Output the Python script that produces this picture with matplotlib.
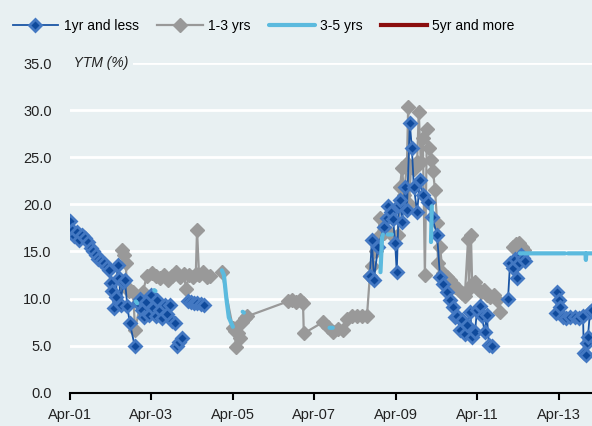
import numpy as np
import matplotlib.pyplot as plt

nan = np.nan

# 1yr and less
t_short = [2001.25, 2001.30, 2001.36, 2001.42, 2001.48, 2001.55, 2001.62, 2001.69, 2001.76, 2001.83,
           2001.89, 2001.95, 2002.02, 2002.09, 2002.16, 2002.21, 2002.25, 2002.29, 2002.33, 2002.38,
           2002.42, 2002.46, 2002.50, 2002.55, 2002.60, 2002.66, 2002.72, 2002.84, nan,
           2002.92, 2002.97, 2003.02, 2003.07, 2003.12, 2003.18, 2003.24, 2003.30, 2003.36, 2003.40,
           2003.46, 2003.52, 2003.58, 2003.64, 2003.70, 2003.76, 2003.82, nan,
           2003.87, 2003.93, 2003.99, nan,
           2004.15, 2004.22, 2004.30, 2004.38, 2004.46, 2004.55, nan,
           2008.61, 2008.66, 2008.71, 2008.81, 2008.96, 2009.03, 2009.05, 2009.13, 2009.18, 2009.23,
           2009.27, 2009.32, 2009.35, 2009.40, 2009.47, 2009.52, 2009.59, 2009.64, 2009.69, 2009.77,
           2009.84, 2009.91, 2010.04, 2010.13, 2010.26, 2010.33, 2010.40, 2010.50, 2010.58, 2010.65,
           2010.70, 2010.75, 2010.82, 2010.87, 2010.94, 2010.99, 2011.07, 2011.12, 2011.19, 2011.24,
           2011.31, 2011.36, 2011.43, 2011.48, 2011.53, 2011.61, nan,
           2012.00, 2012.05, 2012.12, 2012.17, 2012.22, 2012.27, 2012.32, 2012.37, 2012.42, nan,
           2013.18, 2013.20, 2013.25, 2013.27, 2013.35, 2013.42, 2013.52, 2013.64, 2013.74, 2013.84,
           2013.86, 2013.91, 2013.94, 2013.96, 2014.01, 2014.06]
v_short = [18.2, 17.3, 16.6, 17.1, 16.2, 16.8, 16.4, 16.0, 15.4, 15.0,
           14.6, 14.2, 14.0, 13.8, 13.4, 13.0, 11.6, 10.8, 9.0, 10.2,
           13.6, 12.2, 9.3, 11.8, 12.0, 9.2, 7.4, 5.0, nan,
           9.5, 10.0, 8.8, 8.0, 9.6, 8.3, 10.4, 9.0, 8.2, 9.9,
           8.8, 7.9, 9.3, 8.4, 9.3, 7.6, 7.4, nan,
           5.0, 5.4, 5.8, nan,
           9.7, 9.6, 9.5, 9.5, 9.4, 9.3, nan,
           12.4, 16.2, 12.0, 15.5, 17.6, 18.6, 19.8, 19.2, 18.4, 15.9,
           12.8, 19.9, 20.5, 18.1, 21.8, 19.4, 28.6, 26.0, 21.8, 19.2,
           22.6, 21.0, 20.2, 18.7, 16.8, 12.3, 11.5, 10.7, 9.9, 9.1,
           8.0, 8.1, 6.7, 7.7, 6.2, 7.2, 8.6, 5.9, 6.5, 8.8,
           9.2, 8.1, 6.4, 8.3, 5.1, 5.0, nan,
           10.0, 13.8, 13.2, 14.2, 12.2, 13.8, 14.6, 14.3, 14.0, nan,
           8.5, 10.7, 9.9, 9.1, 8.0, 7.9, 8.0, 8.0, 7.9, 8.1,
           4.2, 4.0, 5.3, 5.9, 8.6, 8.8]

# 1-3 yrs
t_mid = [2002.53, 2002.58, 2002.62, 2002.65, 2002.70, 2002.80, 2002.85, 2003.04, 2003.14, 2003.26,
         2003.36, 2003.46, 2003.56, 2003.65, 2003.75, 2003.85, 2003.95, 2004.05, 2004.10, 2004.17,
         2004.27, 2004.34, 2004.37, 2004.42, 2004.51, 2004.61, 2004.69, nan,
         2004.98, 2005.25, 2005.30, 2005.32, 2005.37, 2005.42, 2005.47, 2005.54, 2005.59,
         2006.60, 2006.70, 2006.80, 2006.89, 2006.97, 2006.99,
         2007.46, 2007.58, 2007.70, 2007.83, 2007.95, 2008.05, 2008.17, 2008.29, 2008.42, 2008.54,
         2008.61, 2008.66, 2008.76, 2008.81, 2008.86, 2008.96, 2009.10, 2009.30, 2009.35, 2009.40,
         2009.45, 2009.52, 2009.55, 2009.57, 2009.62, 2009.69, 2009.77, 2009.81, 2009.86, 2009.91,
         2009.96, 2010.01, 2010.06, 2010.11, 2010.16, 2010.21, 2010.26, 2010.28, 2010.33, 2010.40,
         2010.50, 2010.58, 2010.65, 2010.70, 2010.77, 2010.87, 2010.94, 2011.02, 2011.04, 2011.09,
         2011.12, 2011.19, 2011.26, 2011.34, 2011.41, 2011.48, 2011.56, 2011.65, 2011.73, 2011.80, nan,
         2012.12, 2012.19, 2012.27, 2012.34, 2012.39]
v_mid = [15.2, 14.6, 13.8, 11.2, 10.8, 10.7, 6.7, 10.7, 12.4, 12.7,
         12.4, 12.2, 12.5, 12.0, 12.4, 12.8, 12.3, 12.6, 11.0, 12.5,
         12.3, 12.6, 17.3, 12.5, 12.8, 12.3, 12.4, nan,
         12.8, 6.9, 6.6, 4.9, 6.3, 5.8, 7.5, 7.9, 8.1,
         9.7, 9.9, 9.6, 9.8, 9.5, 6.3,
         7.5, 7.0, 6.5, 6.8, 6.7, 7.8, 8.2, 8.2, 8.2, 8.2,
         12.4, 13.5, 15.0, 16.5, 18.6, 17.0, 17.0, 16.8, 21.8, 23.9,
         21.0, 24.4, 30.3, 20.0, 24.0, 23.8, 24.5, 29.8, 24.5, 27.0,
         12.5, 28.0, 26.0, 24.7, 23.5, 21.5, 18.0, 13.8, 15.5, 12.7,
         12.3, 12.0, 11.5, 11.2, 11.0, 10.6, 10.3, 16.3, 11.0, 16.8,
         11.5, 11.8, 11.0, 10.7, 10.9, 10.4, 10.2, 10.4, 9.8, 8.6, nan,
         15.5, 15.8, 15.9, 15.5, 15.2]

# 3-5 yrs
t_long = [2002.87, 2002.90, nan, 2003.32, 2003.35, nan,
          2004.98, 2005.03, 2005.09, 2005.15, 2005.25, nan, 2005.49, 2005.52, nan,
          2007.62, 2007.70, nan, 2008.87, 2008.91, 2008.93, nan, 2009.05, 2009.15, nan,
          2010.11, 2010.13, nan,
          2012.29, 2012.50, 2012.80, 2013.10, 2013.40, nan, 2013.47, 2013.70, 2013.90,
          2013.91, 2013.92, 2014.06]
v_long = [9.7, 9.5, nan, 10.9, 10.8, nan,
          13.0, 12.5, 10.0, 8.0, 7.0, nan, 8.6, 8.5, nan,
          6.9, 6.9, nan, 12.8, 16.5, 16.8, nan, 16.8, 16.8, nan,
          16.0, 19.8, nan,
          14.8, 14.8, 14.8, 14.8, 14.8, nan, 14.8, 14.8, 14.8,
          14.1, 14.8, 14.8]

# 5yr and more (no observations in this window)
t_vlong = []
v_vlong = []

tick_pos = [2001.25, 2003.25, 2005.25, 2007.25, 2009.25, 2011.25, 2013.25]
tick_lab = ['Apr-01', 'Apr-03', 'Apr-05', 'Apr-07', 'Apr-09', 'Apr-11', 'Apr-13']
y_ticks = [0, 5, 10, 15, 20, 25, 30, 35]

bg = '#e8f0f2'
plt.rcParams['font.family'] = ['Liberation Sans', 'DejaVu Sans']

fig = plt.figure(figsize=(5.92, 4.26), dpi=100, facecolor=bg)
ax = fig.add_axes([0.118, 0.078, 0.882, 0.774], facecolor=bg)

ax.plot(t_short, v_short, color='#1a55a5', lw=1.3, marker='D', ms=6.5,
        mfc='#0f4a9c', mec='#4378c2', mew=2, label='1yr and less', zorder=3)
ax.plot(t_mid, v_mid, color='#999999', lw=1.6, marker='D', ms=7.5,
        mfc='#999999', mec='#999999', label='1-3 yrs', zorder=2)
ax.plot(t_long, v_long, color='#5bbade', lw=3, label='3-5 yrs', zorder=4,
        solid_capstyle='round')
ax.plot(t_vlong, v_vlong, color='#8b0e0e', lw=3, label='5yr and more')

ax.set_xlim(2001.25, 2014.06)
ax.set_ylim(0, 35)
ax.set_yticks(y_ticks)
ax.set_yticklabels([f'{v:.1f}' for v in y_ticks], fontsize=10.5, color='#222222')
ax.set_xticks(tick_pos)
ax.set_xticklabels(tick_lab, fontsize=10.5, color='#222222')
ax.tick_params(axis='y', length=0, pad=13)
ax.tick_params(axis='x', length=5, width=1.5, color='black', direction='out', pad=6)
ax.grid(axis='y', color='white', lw=2)
ax.set_axisbelow(True)
for s in ['left', 'right', 'top']:
    ax.spines[s].set_visible(False)
ax.spines['bottom'].set_linewidth(1.5)
ax.spines['bottom'].set_color('black')

ax.text(0.0, 35, ' YTM (%) ', fontsize=10, style='italic', color='#222222',
        va='center', ha='left', transform=ax.get_yaxis_transform(),
        bbox=dict(facecolor=bg, edgecolor='none', pad=1), zorder=5)

fig.legend(loc='upper left', bbox_to_anchor=(0.0, 0.985), ncol=4, frameon=False,
           fontsize=10, handlelength=3.3, columnspacing=1.3, handletextpad=0.4)

fig.savefig('out.png', dpi=100, facecolor=bg)
